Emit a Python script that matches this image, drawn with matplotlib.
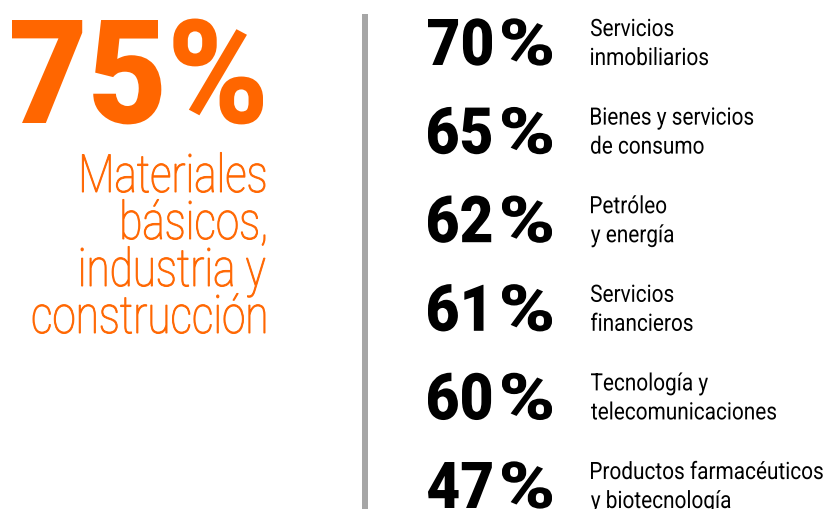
import matplotlib
matplotlib.use("Agg")
import matplotlib.pyplot as plt
from matplotlib.textpath import TextPath
from matplotlib.font_manager import FontProperties
from matplotlib.patches import PathPatch, Rectangle
from matplotlib.transforms import Affine2D

# data
main_value = 75
main_label = ["Materiales", "básicos,", "industria y", "construcción"]
values = [70, 65, 62, 61, 60, 47]
labels = [
    ["Servicios", "inmobiliarios"],
    ["Bienes y servicios", "de consumo"],
    ["Petróleo", "y energía"],
    ["Servicios", "financieros"],
    ["Tecnología y", "telecomunicaciones"],
    ["Productos farmacéuticos", "y biotecnología"],
]

W, H = 827, 509
ORANGE = "#ff6600"
GREY = "#a6a6a6"
FAMILY = "Roboto"


def fprop(weight):
    return FontProperties(family=FAMILY, weight=weight)


def cap_unit(fp):
    return TextPath((0, 0), "H", size=1, prop=fp).get_extents().height


def ink_width(s, fp, cap):
    e = TextPath((0, 0), s, size=1, prop=fp).get_extents()
    return (e.x1 - e.x0) * cap / cap_unit(fp)


def draw(ax, s, x, base, cap, sx, fp, color, ha="left", edge=0):
    'draw text as a path so it can be squeezed like a condensed face'
    tp = TextPath((0, 0), s, size=1, prop=fp)
    k = cap / cap_unit(fp)
    e = tp.get_extents()
    if ha == "right":
        x0 = x - e.x1 * k * sx
    else:
        x0 = x - e.x0 * k * sx
    tr = Affine2D().scale(k * sx, k).translate(x0, H - base)
    ax.add_patch(PathPatch(tr.transform_path(tp), fc=color,
                           ec=color if edge else "none", lw=edge))


fig = plt.figure(figsize=(W / 100, H / 100), dpi=100)
ax = fig.add_axes([0, 0, 1, 1])
ax.set_xlim(0, W)
ax.set_ylim(0, H)
ax.axis("off")

# left block
fp_big = fprop("black")
s_big = "%d%%" % main_value
sx_big = 251 / ink_width(s_big, fp_big, 103)
draw(ax, s_big, 12, 123, 103, sx_big, fp_big, ORANGE)

fp_light = fprop("light")
sx_light = 232 / ink_width("construcción", fp_light, 37.5)
for i, line in enumerate(main_label):
    draw(ax, line, 265, 192 + i * 47, 37.5, sx_light, fp_light, ORANGE,
         ha="right", edge=0.7)

# divider
ax.add_patch(Rectangle((362, 0), 6, H - 14, fc=GREY, ec="none"))

# right column
fp_num = fprop("black")
sx_num = 64 / ink_width("70", fp_num, 46)
sx_pct = 50 / ink_width("%", fp_num, 46)
fp_lab = fprop("normal")
sx_lab = 185 / ink_width("telecomunicaciones", fp_lab, 17)
for i, (v, lab) in enumerate(zip(values, labels)):
    base = 65 + i * 88.6
    draw(ax, str(v), 428, base, 46, sx_num, fp_num, "black")
    draw(ax, "%", 502, base, 46, sx_pct, fp_num, "black")
    draw(ax, lab[0], 591, base - 29, 17, sx_lab, fp_lab, "black")
    draw(ax, lab[1], 591, base, 17, sx_lab, fp_lab, "black")

fig.savefig("out.png", dpi=100)
